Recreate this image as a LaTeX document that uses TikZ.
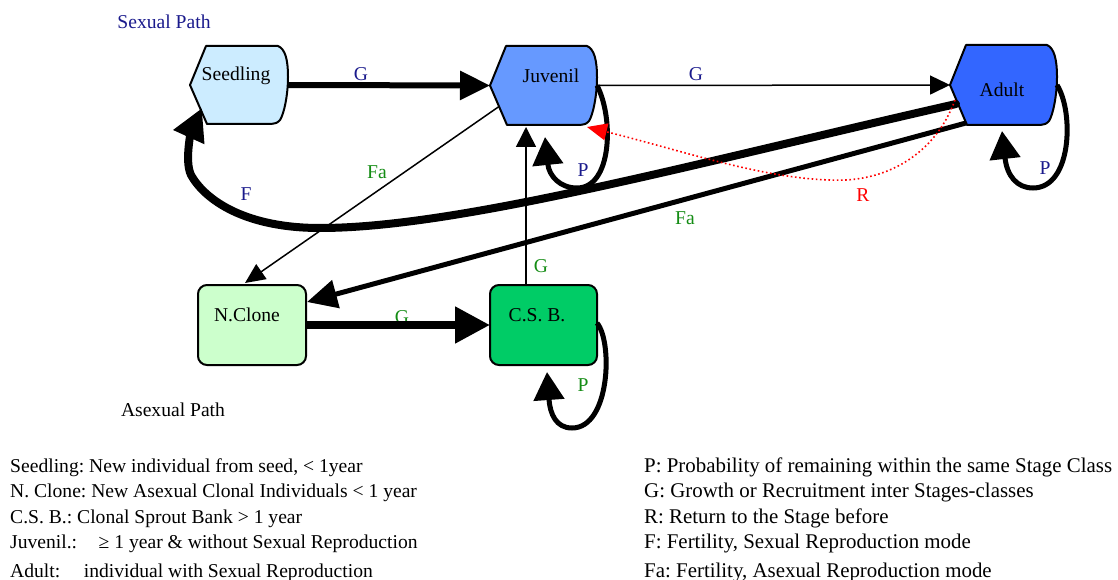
\documentclass[tikz,border=0pt]{standalone}
\usepackage{fontspec}
\setmainfont{Liberation Serif}
\usetikzlibrary{arrows.meta,calc}
\definecolor{navy}{RGB}{26,26,140}
\definecolor{lgreen}{RGB}{20,140,20}
\definecolor{seedfill}{RGB}{204,236,255}
\definecolor{juvfill}{RGB}{102,153,255}
\definecolor{adultfill}{RGB}{51,102,255}
\definecolor{clonefill}{RGB}{204,255,204}
\definecolor{csbfill}{RGB}{0,204,102}
\newcommand{\dispshape}[2]{%
  \draw[stageline, fill=#2] (#1.west) -- ($(#1.north west)+(16,0)$) -- ($(#1.north east)+(-10,0)$)
    .. controls ($(#1.north east)+(-3,3)$) and ($(#1.east)+(0,-26)$) .. ($(#1.east)+(0,-8)$)
    .. controls ($(#1.east)+(0,10)$) and ($(#1.south east)+(-4,-10)$) .. ($(#1.south east)+(-8,-4)$)
    .. controls ($(#1.south east)+(-11,-1)$) .. ($(#1.south east)+(-17,0)$)
    -- ($(#1.south west)+(17,0)$) -- cycle;}
\begin{document}
\frenchspacing
\begin{tikzpicture}[x=1pt,y=-1pt,font=\fontsize{19.6}{24}\selectfont,
  stagebox/.style={inner sep=0pt, outer sep=0pt},
  stageline/.style={draw=black, line width=2pt, line join=round},
  rstage/.style={draw=black, line width=2pt, rounded corners=9pt, inner sep=0pt, outer sep=0pt},
  txt/.style={inner sep=0pt},
  navylbl/.style={inner sep=0pt, text=navy},
  greenlbl/.style={inner sep=0pt, text=lgreen},
  redlbl/.style={inner sep=0pt, text=red},
  legend/.style={inner sep=0pt, anchor=base west},
  rlegend/.style={inner sep=0pt, anchor=base west, font=\fontsize{20.9}{24}\selectfont},
  bigtip/.style={-{Triangle[length=30pt,width=28pt]}},
  thinarrow/.style={line width=1.5pt, -{Triangle[length=20pt,width=19pt]}},
  loop/.style={line width=5pt, -{Triangle[length=28pt,width=30pt]}},
  ret/.style={red, line width=1.6pt, dash pattern=on 1.6pt off 2.6pt, -{Triangle[length=20pt,width=17pt]}}
]
\useasboundingbox (0,0) rectangle (1118,580);

% stage nodes
\node[stagebox, minimum width=98pt, minimum height=78pt] (seed) at (239,85) {};
\node[stagebox, minimum width=107pt, minimum height=79pt] (juv) at (543.5,85.5) {};
\node[stagebox, minimum width=107pt, minimum height=80pt] (adult) at (1003.5,85) {};
\dispshape{seed}{seedfill}
\dispshape{juv}{juvfill}
\dispshape{adult}{adultfill}
\node[rstage, fill=clonefill, minimum width=108pt, minimum height=80pt] (nclone) at (252,325) {};
\node[rstage, fill=csbfill, minimum width=107pt, minimum height=80pt] (csb) at (543.5,325) {};

\node[txt] (seedt) at (236,76) {Seedling};
\node[txt] (juvt) at (551,76) {Juvenil};
\node[txt] (adultt) at (1002,90) {Adult};
\node[txt] (nclonet) at (247,315) {N.Clone};
\node[txt] (csbt) at (537,315) {C.S. B.};

% label partly under the thick G line
\node[greenlbl] (gcl) at (402,317) {G};

% connectors
\draw[line width=6pt, bigtip] (seed.east) -- (juv.west);
\draw[thinarrow] (juv.east) -- (adult.west);
\draw[loop] (juv.east) .. controls (614,118) and (612,188) .. (577,188)
  .. controls (560,188) and (549,176) .. ($(juv.south)+(1.5,12)$);
\draw[loop] (adult.east) .. controls (1074,112) and (1072,188) .. (1033,188)
  .. controls (1017,188) and (1007,176) .. ($(adult.south)+(-1.5,6)$);
\draw[line width=1.5pt, -{Triangle[length=20pt,width=18pt]}] ($(juv.west)+(9,21)$) -- ($(nclone.north)+(-7,-2)$);
\draw[line width=1.5pt, -{Triangle[length=20pt,width=20pt]}] ($(csb.north)+(-17.5,0)$) -- ($(juv.south)+(-17.5,2)$);
\draw[line width=8pt, -{Triangle[length=35pt,width=35pt]}] (nclone.east) -- (csb.west);
\draw[loop] ($(csb.east)+(0,-2)$) .. controls (613,342) and (610,428) .. (572,428)
  .. controls (556,428) and (550,414) .. ($(csb.south)+(3.5,7)$);
\draw[line width=5pt, bigtip] ($(adult.south west)+(16,-2)$) -- ($(nclone.north east)+(1,17)$);
\draw[line width=8pt, line cap=round, -{Triangle[length=32pt,width=32pt]}] ($(adult.west)+(6,19)$)
  .. controls (700,162) and (460,228) .. (320,228)
  .. controls (245,228) and (205,200) .. (191,175)
  .. controls (184,160) and (192,130) .. ($(seed.south west)+(12,-16)$);
\draw[ret] ($(adult.west)+(5,15)$) .. controls (935,155) and (885,183) .. (830,180)
  .. controls (760,178) and (680,150) .. ($(juv.east)+(-10,41.5)$);

% edge labels
\node[navylbl] (g1) at (361,74) {G};
\node[navylbl] (g2) at (696,74) {G};
\node[navylbl] (pj) at (583,170) {P};
\node[navylbl] (pa) at (1045,168) {P};
\node[navylbl] (fl) at (246,194) {F};
\node[greenlbl] (fa1) at (377,172) {Fa};
\node[greenlbl] (fa2) at (685,218) {Fa};
\node[greenlbl] (gv) at (541,266) {G};
\node[greenlbl] (pc) at (583,385) {P};
\node[redlbl] (rl) at (863,195) {R};

\node[txt, text=navy] (sexp) at (164,22) {Sexual Path};
\node[txt] (asexp) at (173,410) {Asexual Path};

% legend
\node[legend] (l1) at (10,472) {Seedling: New individual from seed, < 1year};
\node[legend] (l2) at (10,497) {N. Clone: New Asexual Clonal Individuals < 1 year};
\node[legend] (l3) at (10,523) {C.S. B.: Clonal Sprout Bank > 1 year};
\node[legend] (l4) at (10,548) {Juvenil.:\hspace{1.1em}≥ 1 year \& without Sexual Reproduction};
\node[legend] (l5) at (10,577) {Adult:\hspace{1.2em}individual with Sexual Reproduction};
\node[rlegend] (r1) at (644,472) {P: Probability of remaining within the same Stage Class};
\node[rlegend] (r2) at (644,497) {G: Growth or Recruitment inter Stages-classes};
\node[rlegend] (r3) at (644,523) {R: Return to the Stage before};
\node[rlegend] (r4) at (644,548) {F: Fertility, Sexual Reproduction mode};
\node[rlegend] (r5) at (644,577) {Fa: Fertility, Asexual Reproduction mode};
\end{tikzpicture}
\end{document}
